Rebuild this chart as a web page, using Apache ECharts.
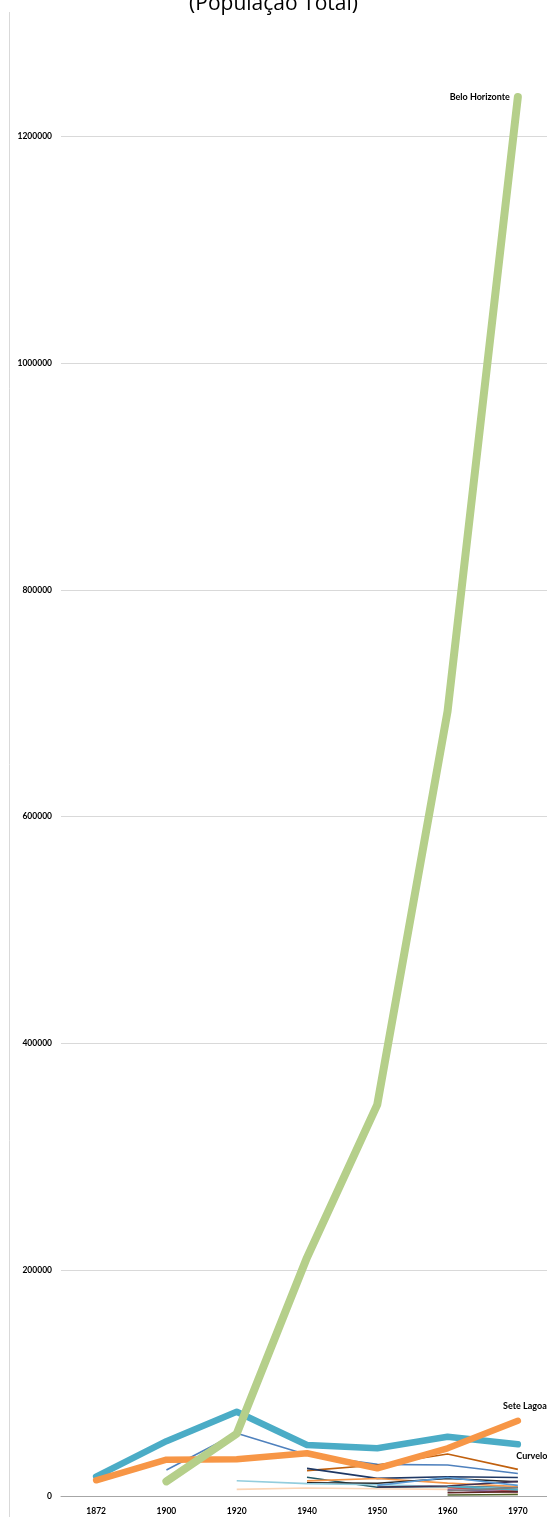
<!DOCTYPE html>
<html>
<head>
<meta charset="utf-8">
<script src="https://cdn.jsdelivr.net/npm/echarts@6/dist/echarts.min.js"></script>
<style>
  html, body { margin: 0; padding: 0; background: #fff; }
  #chart { width: 547px; height: 1517px; }
</style>
</head>
<body>
<div id="chart"></div>
<script>
// anos do censo
var years = ['1872', '1900', '1920', '1940', '1950', '1960', '1970']

// séries principais
var beloHorizonte = [null, 13500, 55500, 211000, 346000, 693000, 1235000]
var curvelo = [17700, 49000, 75000, 45600, 42700, 52900, 46200]
var seteLagoas = [14500, 32700, 33000, 38300, 25000, 42700, 67000]

// demais municípios (linhas finas)
var thinSeries = [
  { color: '#4f81bd', data: [null, 23500, 56000, 37000, 28500, 28000, 20500] },
  { color: '#c0600e', data: [null, null, null, 23000, 28000, 37700, 24100] },
  { color: '#1f3864', data: [null, null, null, 25000, 16200, 17600, 17000] },
  { color: '#215968', data: [null, null, null, 17100, 8300, 9000, 8000] },
  { color: '#f79646', data: [null, null, null, 14000, 16000, 12000, 9000] },
  { color: '#262626', data: [null, null, null, 12300, 11800, 16000, 13200] },
  { color: '#93cddd', data: [null, null, 14100, 11500, 10500, 9000, 7000] },
  { color: '#fcd5b5', data: [null, null, 6500, 7700, 7000, 6500, 3000] },
  { color: '#403152', data: [null, null, null, null, 8500, 9500, 13500] },
  { color: '#5b9bd5', data: [null, null, null, null, 10000, 17000, 10000] },
  { color: '#c0504d', data: [null, null, null, null, null, 8000, 5000] },
  { color: '#8064a2', data: [null, null, null, null, null, 6000, 4000] },
  { color: '#632523', data: [null, null, null, null, null, 3500, 4500] },
  { color: '#4f6228', data: [null, null, null, null, null, 1500, 2000] },
  { color: '#4bacc6', data: [null, null, null, null, null, 9000, 6000] },
  { color: '#7f7f7f', data: [null, null, null, null, null, 5000, 8000] }
]

var labelFont = { fontFamily: 'Lato', fontWeight: 'bold', fontSize: 9, color: '#000' }

// coloca o nome só no último ponto
function withEndLabel (arr, name, pos, offset) {
  return arr.map(function (v, i) {
    if (i !== arr.length - 1) return v
    return {
      value: v,
      label: Object.assign({ show: true, formatter: name, position: pos, offset: offset, distance: 6 }, labelFont)
    }
  })
}

var series = []
thinSeries.forEach(function (s) {
  series.push({
    type: 'line',
    data: s.data,
    symbol: 'none',
    lineStyle: { color: s.color, width: 1.6 }
  })
})

function thickLine (name, data, color, width, pos, offset) {
  return {
    type: 'line',
    name: name,
    data: withEndLabel(data, name, pos, offset),
    symbol: 'circle',
    symbolSize: 0,
    showSymbol: true,
    showAllSymbol: true,
    itemStyle: { color: color },
    lineStyle: { color: color, width: width, cap: 'round', join: 'round' }
  }
}

series.push(thickLine('Curvelo', curvelo, '#4bacc6', 6.5, 'bottom', [14, 1]))
series.push(thickLine('Sete Lagoas', seteLagoas, '#f79646', 6.5, 'top', [9, -4]))
series.push(thickLine('Belo Horizonte', beloHorizonte, '#b5cf8a', 8, 'left', [-2, 0]))

var chart = echarts.init(document.getElementById('chart'))
chart.setOption({
  animation: false,
  title: {
    text: '(População Total)',
    left: 'center',
    top: -11,
    textStyle: { fontFamily: 'Open Sans', fontWeight: 'normal', fontSize: 21, color: '#000' }
  },
  graphic: [{
    type: 'line',
    shape: { x1: 9.5, y1: 12, x2: 9.5, y2: 1517 },
    style: { stroke: '#d9d9d9', lineWidth: 1 }
  }],
  grid: { left: 61, width: 492, top: -90, height: 1586.7, outerBoundsMode: 'none', containLabel: false },
  xAxis: {
    type: 'category',
    data: years,
    boundaryGap: true,
    axisTick: { show: false },
    axisLine: { lineStyle: { color: '#a6a6a6', width: 1 } },
    axisLabel: Object.assign({ margin: 10 }, labelFont, { fontSize: 8.5 })
  },
  yAxis: {
    type: 'value',
    min: 0,
    max: 1400000,
    interval: 200000,
    axisLine: { show: false },
    axisTick: { show: false },
    splitLine: { lineStyle: { color: '#d9d9d9', width: 1 } },
    axisLabel: Object.assign({ margin: 9, formatter: function (v) { return String(v) } }, labelFont, { fontSize: 8.5 })
  },
  series: series
})
</script>
</body>
</html>
